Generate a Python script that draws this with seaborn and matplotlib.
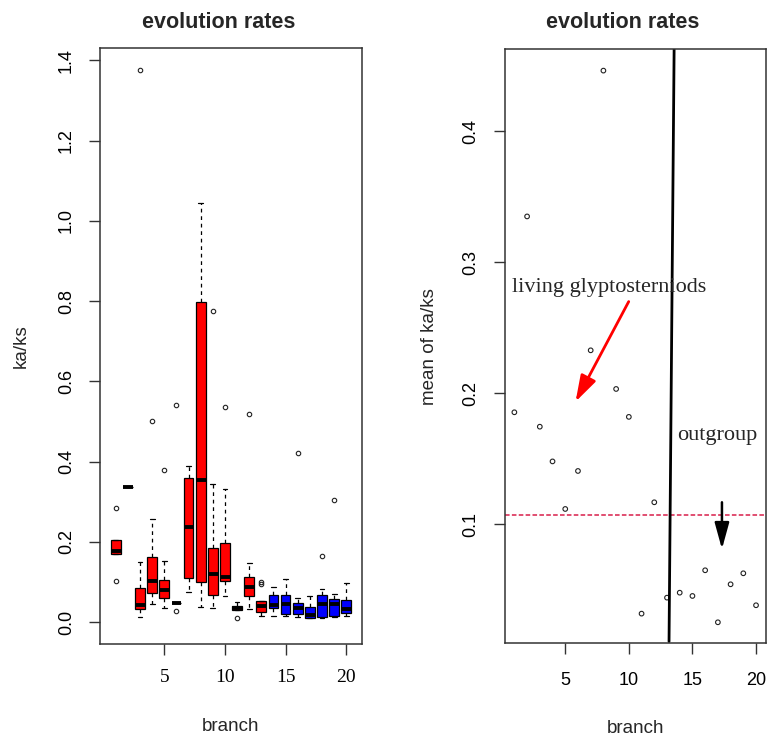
import numpy as np
import pandas as pd
import matplotlib
matplotlib.use("Agg")
import matplotlib.pyplot as plt
import seaborn as sns

# ---------------- data ----------------
branch = list(range(1, 21))
group = ["living"] * 13 + ["outgroup"] * 7

# five-number summaries of ka/ks per branch (left panel)
whisker_low = [0.170, 0.337, 0.013, 0.044, 0.035, 0.047, 0.074, 0.038, 0.035, 0.064,
               0.029, 0.033, 0.015, 0.016, 0.015, 0.013, 0.009, 0.010, 0.013, 0.015]
quart1 = [0.170, 0.337, 0.033, 0.073, 0.060, 0.047, 0.110, 0.100, 0.068, 0.103,
          0.029, 0.064, 0.026, 0.034, 0.021, 0.021, 0.011, 0.012, 0.015, 0.023]
median = [0.176, 0.337, 0.042, 0.101, 0.079, 0.047, 0.236, 0.355, 0.120, 0.111,
          0.034, 0.087, 0.040, 0.041, 0.045, 0.035, 0.017, 0.044, 0.044, 0.033]
quart3 = [0.205, 0.337, 0.085, 0.163, 0.104, 0.047, 0.359, 0.797, 0.184, 0.196,
          0.040, 0.111, 0.052, 0.067, 0.068, 0.048, 0.038, 0.068, 0.058, 0.054]
whisker_high = [0.205, 0.337, 0.150, 0.257, 0.153, 0.047, 0.390, 1.045, 0.345, 0.331,
                0.050, 0.147, 0.052, 0.087, 0.107, 0.060, 0.064, 0.081, 0.070, 0.098]
outliers = [[0.285, 0.103], [], [1.376], [0.502], [0.380], [0.027, 0.542], [], [],
            [0.775], [0.537], [0.010], [0.518], [0.100, 0.095], [], [], [0.421],
            [], [0.165], [0.305], []]

# mean ka/ks per branch (right panel)
mean_kaks = [0.1855, 0.335, 0.1745, 0.148, 0.1117, 0.1407, 0.2328, 0.4463, 0.2033, 0.182,
             0.0318, 0.1168, 0.044, 0.0478, 0.0453, 0.0649, 0.0252, 0.0542, 0.0626, 0.0382]

overall_mean = 0.1073
divider_x = [13.56, 13.16]
divider_y = [0.463, 0.0105]

# ---------------- build long table for seaborn boxplot ----------------
rows = []
for i, b in enumerate(branch):
    vals = ([whisker_low[i]] + [quart1[i]] * 10 + [median[i]] * 10 +
            [quart3[i]] * 10 + [whisker_high[i]] + outliers[i])
    for v in vals:
        rows.append({"branch": b, "kaks": v, "group": group[i]})
df_box = pd.DataFrame(rows)
df_mean = pd.DataFrame({"branch": branch, "mean": mean_kaks})

sns.set_theme(style="ticks")
plt.rcParams["font.family"] = ["Liberation Sans", "DejaVu Sans"]

fig = plt.figure(figsize=(7.68, 7.38), dpi=100)
ax1 = fig.add_axes([100 / 768, (738 - 644) / 738, 262 / 768, 596 / 738])
ax2 = fig.add_axes([504.7 / 768, (738 - 643.3) / 738, 261 / 768, 594.3 / 738])

# ---------------- left panel ----------------
sns.boxplot(data=df_box, x="branch", y="kaks", hue="group", native_scale=True,
            palette={"living": "#FF0000", "outgroup": "#0000FF"}, dodge=False,
            saturation=1, legend=False, width=0.8, linecolor="black", linewidth=0.9,
            medianprops=dict(color="black", linewidth=2.8),
            whiskerprops=dict(color="black", linestyle=(0, (3, 3)), linewidth=0.9),
            capprops=dict(color="black", linewidth=0.9),
            flierprops=dict(marker="o", markersize=3.2, markerfacecolor="none",
                            markeredgecolor="#222222", markeredgewidth=0.8),
            ax=ax1)
ax1.set_xlim(-0.3, 21.3)
ax1.set_ylim(-0.055, 1.431)
ax1.set_xticks([5, 10, 15, 20])
ax1.set_yticks([0.0, 0.2, 0.4, 0.6, 0.8, 1.0, 1.2, 1.4])
ax1.set_yticklabels(["0.0", "0.2", "0.4", "0.6", "0.8", "1.0", "1.2", "1.4"])
for lab in ax1.get_xticklabels():
    lab.set_fontfamily("Liberation Serif")
    lab.set_fontsize(14)
ax1.tick_params(axis="x", length=8, width=1, pad=10, colors="#333333", labelcolor="black")
ax1.tick_params(axis="y", length=8, width=1, pad=10, labelsize=13, labelrotation=90,
                colors="#333333", labelcolor="black")
for lab in ax1.get_yticklabels():
    lab.set_verticalalignment("center")
ax1.set_title("evolution rates", fontsize=15.5, fontweight="bold", x=0.452, y=1.034, pad=0)
ax1.set_xlabel("branch", fontsize=13.5)
ax1.set_ylabel("ka/ks", fontsize=13.5)
ax1.xaxis.set_label_coords(0.5, -0.124)
ax1.yaxis.set_label_coords(-0.268, 0.5)

# ---------------- right panel ----------------
sns.scatterplot(data=df_mean, x="branch", y="mean", marker="o", s=11,
                facecolors="none", edgecolors="#222222", linewidth=0.8, ax=ax2)
ax2.set_xlim(0.24, 20.76)
ax2.set_ylim(0.00916, 0.4628)
ax2.set_xticks([5, 10, 15, 20])
ax2.set_yticks([0.1, 0.2, 0.3, 0.4])
ax2.tick_params(axis="x", length=8, width=1, pad=13, labelsize=13,
                colors="#333333", labelcolor="black")
ax2.tick_params(axis="y", length=8, width=1, pad=10, labelsize=13, labelrotation=90,
                colors="#333333", labelcolor="black")
for lab in ax2.get_yticklabels():
    lab.set_verticalalignment("center")
ax2.axhline(overall_mean, color="#D81E4A", linestyle=(0, (3, 1.5)), linewidth=1.1)
ax2.plot(divider_x, divider_y, color="black", linewidth=2)
ax2.annotate("", xy=(5.81, 0.1936), xytext=(9.99, 0.270),
             arrowprops=dict(arrowstyle="-|>,head_length=0.8,head_width=0.25",
                             color="#FF0000", lw=2, mutation_scale=20,
                             shrinkA=0, shrinkB=0))
ax2.annotate("", xy=(17.32, 0.0811), xytext=(17.32, 0.1168),
             arrowprops=dict(arrowstyle="-|>,head_length=0.8,head_width=0.22",
                             color="black", lw=1.8, mutation_scale=20,
                             shrinkA=0, shrinkB=0))
ax2.text(0.85, 0.281, "living glyptosterniods", fontfamily="Liberation Serif",
         fontsize=16, ha="left", va="center")
ax2.text(13.83, 0.168, "outgroup", fontfamily="Liberation Serif",
         fontsize=16, ha="left", va="center")
ax2.set_title("evolution rates", fontsize=15.5, fontweight="bold", x=0.4525, y=1.035, pad=0)
ax2.set_xlabel("branch", fontsize=13.5)
ax2.set_ylabel("mean of ka/ks", fontsize=13.5)
ax2.xaxis.set_label_coords(0.5, -0.129)
ax2.yaxis.set_label_coords(-0.255, 0.5)

for ax in (ax1, ax2):
    for sp in ax.spines.values():
        sp.set_visible(True)
        sp.set_color("#333333")
        sp.set_linewidth(1.1)

fig.savefig("out.png", dpi=100, facecolor="white")
